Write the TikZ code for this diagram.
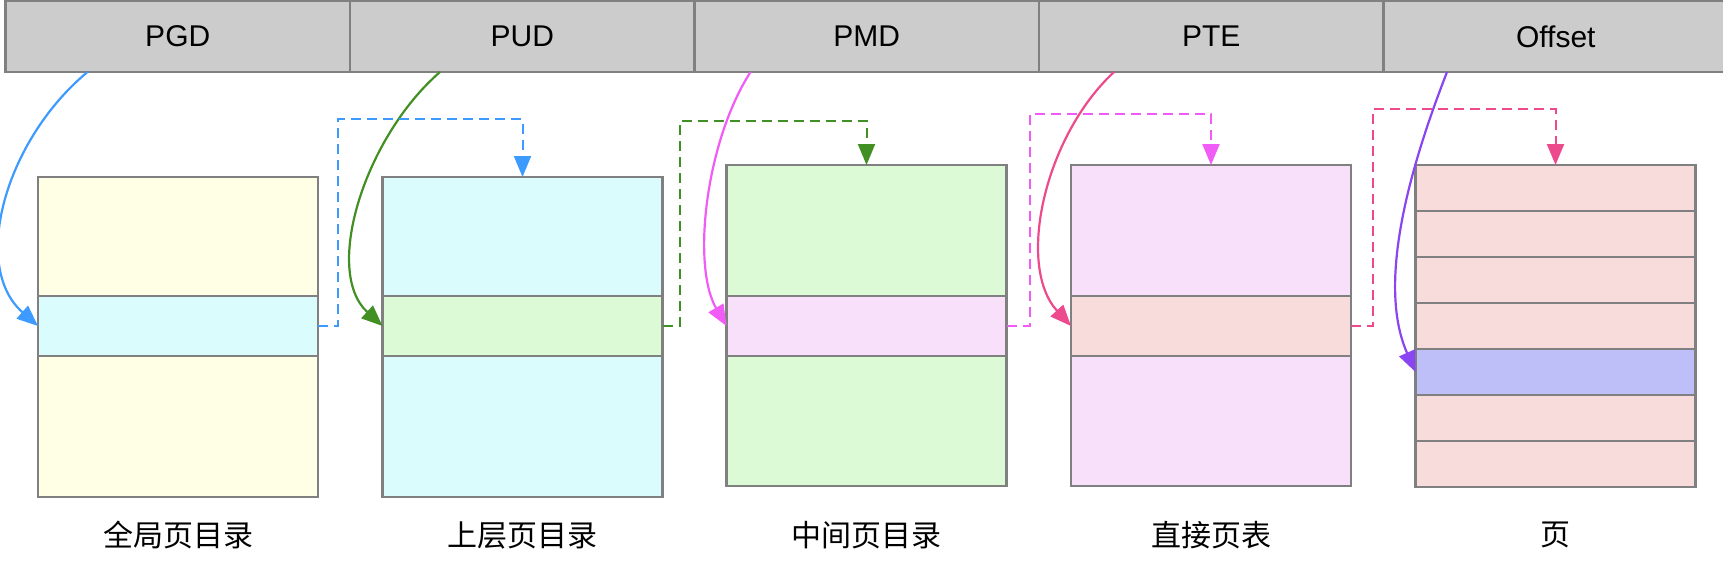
\documentclass[tikz,border=0pt]{standalone}
\usepackage{fontspec}
\setmainfont{Liberation Sans}
\newfontfamily\cjk{Noto Sans CJK SC}
\usetikzlibrary{arrows.meta,positioning,calc}

\definecolor{barfill}{HTML}{CCCCCC}
\definecolor{edge}{HTML}{808080}
\definecolor{lyellow}{HTML}{FFFFE6}
\definecolor{lcyan}{HTML}{DBFCFC}
\definecolor{lgreen}{HTML}{DCFAD6}
\definecolor{lpink}{HTML}{F8E0FA}
\definecolor{lrose}{HTML}{F8DCDC}
\definecolor{lviolet}{HTML}{BEBEF8}
\definecolor{cblue}{HTML}{3D9BFF}
\definecolor{cgreen}{HTML}{428F24}
\definecolor{cmagenta}{HTML}{F05CF5}
\definecolor{cpink}{HTML}{EC4A8C}
\definecolor{cviolet}{HTML}{8A45F2}

\tikzset{
  field/.style={draw=edge,fill=barfill,line width=1.1pt,minimum width=172.25pt,
    minimum height=35.5pt,inner sep=0,outer sep=0,font=\fontsize{15}{18}\selectfont},
  cell/.style={draw=edge,line width=1.1pt,minimum width=140pt,inner sep=0,outer sep=0},
  caption/.style={font=\cjk\fontsize{15}{18}\selectfont},
  arrowtip/.style={-{Triangle[length=10.5pt,width=8.5pt]}},
  link/.style={arrowtip,line width=1.1pt},
  hop/.style={arrowtip,line width=1pt,dash pattern=on 5pt off 3pt},
}

\begin{document}
\begin{tikzpicture}[x=0.5pt,y=-0.5pt]
\useasboundingbox (0,0) rectangle (1723,569);
%
% virtual address fields
\foreach \nm/\txt [count=\i from 0] in {pgd/PGD,pud/PUD,pmd/PMD,pte/PTE,off/Offset}
\node[field] (\nm) at (177.75+344.5*\i,36.5) {\txt};
%
% page global directory
\node[cell,fill=lcyan,minimum height=30pt] (gband) at (178,326) {};
\node[cell,fill=lyellow,minimum height=59.5pt,above=0pt of gband] (gtop) {};
\node[cell,fill=lyellow,minimum height=70.5pt,below=0pt of gband] (gbot) {};
\node[caption] (glabel) at (178,535) {全局页目录};
%
% page upper directory
\node[cell,fill=lgreen,minimum height=30pt] (uband) at (522.5,326) {};
\node[cell,fill=lcyan,minimum height=59.5pt,above=0pt of uband] (utop) {};
\node[cell,fill=lcyan,minimum height=70.5pt,below=0pt of uband] (ubot) {};
\node[caption] (ulabel) at (522.5,535) {上层页目录};
%
% page middle directory
\node[cell,fill=lpink,minimum height=30pt] (mband) at (866.5,326) {};
\node[cell,fill=lgreen,minimum height=65.5pt,above=0pt of mband] (mtop) {};
\node[cell,fill=lgreen,minimum height=65pt,below=0pt of mband] (mbot) {};
\node[caption] (mlabel) at (866.5,535) {中间页目录};
%
% page table
\node[cell,fill=lrose,minimum height=30pt] (tband) at (1211,326) {};
\node[cell,fill=lpink,minimum height=65.5pt,above=0pt of tband] (ttop) {};
\node[cell,fill=lpink,minimum height=65pt,below=0pt of tband] (tbot) {};
\node[caption] (tlabel) at (1211,535) {直接页表};
%
% page
\foreach \r/\col in {0/lrose,1/lrose,2/lrose,3/lrose,4/lviolet,5/lrose,6/lrose}
\node[cell,fill=\col,minimum height=23pt] (row\r) at (1555.5,188+46*\r) {};
\node[caption] (plabel) at (1555.5,535) {页};
%
% index arrows
\draw[link,cblue] ($(pgd.south west)+(82,0)$) .. controls +(-82,68) and +(-68,-60) .. (gband.west);
\draw[link,cgreen] ($(pud.south west)+(90,0)$) .. controls +(-75,65) and +(-60,-55) .. (uband.west);
\draw[link,cmagenta] ($(pmd.south west)+(56,0)$) .. controls +(-45,70) and +(-35,-60) .. (mband.west);
\draw[link,cpink] ($(pte.south west)+(75,0)$) .. controls +(-70,65) and +(-55,-60) .. (tband.west);
\draw[link,cviolet] ($(off.south west)+(63.5,0)$) .. controls +(-35,90) and +(-40,-90) .. (row4.west);
%
% next level
\draw[hop,cblue] (gband.east) -- ++(20,0) |- ($(utop.north)+(0,-58)$) -- (utop.north);
\draw[hop,cgreen] (uband.east) -- ++(17,0) |- ($(mtop.north)+(0,-44)$) -- (mtop.north);
\draw[hop,cmagenta] (mband.east) -- ++(23,0) |- ($(ttop.north)+(0,-51)$) -- (ttop.north);
\draw[hop,cpink] (tband.east) -- ++(22,0) |- ($(row0.north)+(0,-56)$) -- (row0.north);
\end{tikzpicture}
\end{document}
